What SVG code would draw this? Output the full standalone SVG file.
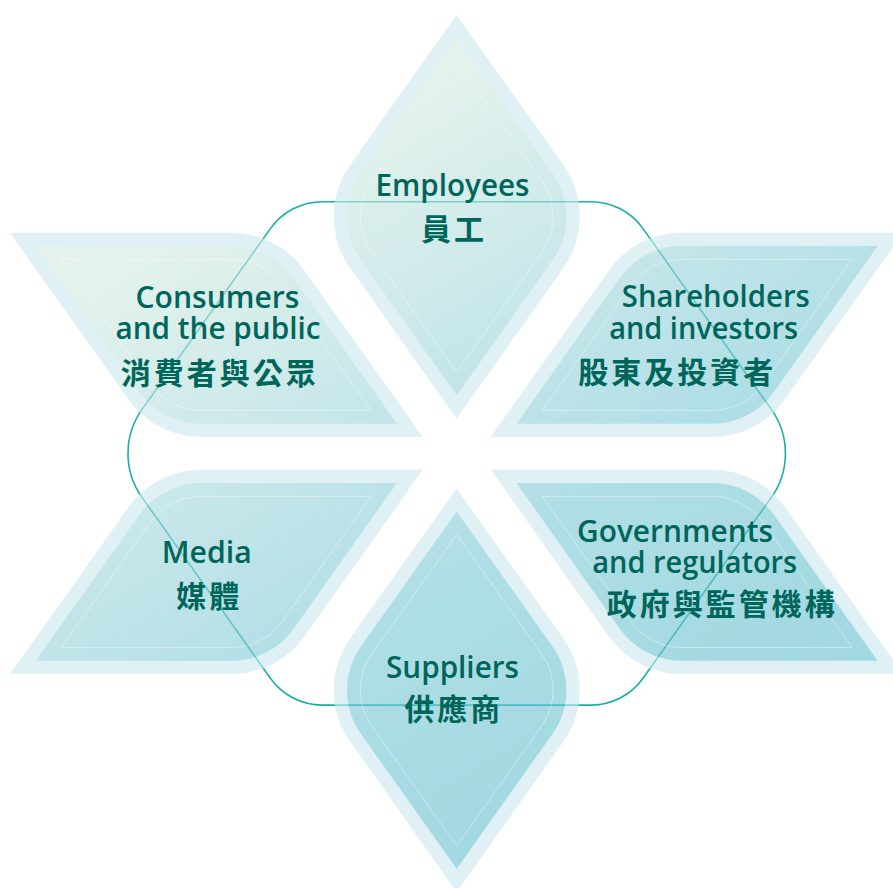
<svg xmlns="http://www.w3.org/2000/svg" width="893" height="888" viewBox="0 0 893 888">
<defs>
<linearGradient id="g" gradientUnits="userSpaceOnUse" x1="200" y1="40" x2="700" y2="880">
<stop offset="0" stop-color="#ddf1e5"/>
<stop offset="0.15" stop-color="#d5ece2"/>
<stop offset="0.42" stop-color="#a2d7dd"/>
<stop offset="0.6" stop-color="#80cbd7"/>
<stop offset="0.85" stop-color="#6cc2d2"/>
<stop offset="1" stop-color="#66bfd0"/>
</linearGradient>
<style>
.shape{opacity:0.62}
.band{stroke:#cdeaef;stroke-width:26.6;stroke-linejoin:miter;stroke-miterlimit:8;paint-order:stroke;fill:url(#g)}
.faint{fill:none;stroke:#ffffff;stroke-opacity:0.5;stroke-width:0.8}
.ring{fill:none;stroke:#1aafa7;stroke-width:1.6}
.en{font-family:"Open Sans","Liberation Sans",sans-serif;font-size:30px;font-weight:600;fill:#00665a;text-anchor:middle}
.zh{font-family:"Noto Sans CJK TC","Noto Sans CJK SC",sans-serif;font-size:30px;font-weight:700;fill:#00665a;text-anchor:middle;letter-spacing:3px}
</style>
</defs>
<rect width="893" height="888" fill="#ffffff"/>
<g id="connectors">
<path class="ring" d="M322.53,201.7 L590.87,201.7 A64,64 0 0 1 643.02,228.63 L771.36,409.4 A76,76 0 0 1 771.36,497.4 L643.02,678.17 A64,64 0 0 1 590.87,705.1 L322.53,705.1 A64,64 0 0 1 270.38,678.17 L142.04,497.4 A76,76 0 0 1 142.04,409.4 L270.38,228.63 A64,64 0 0 1 322.53,201.7 Z"/>
</g>
<g id="employees">
<g class="shape">
<path class="band" d="M456.7,37.97 L552.44,172.82 A75.7,75.7 0 0 1 552.44,260.48 L456.7,395.33 L360.96,260.48 A75.7,75.7 0 0 1 360.96,172.82 Z"/>
<path class="faint" d="M456.7,60.94 L541.6,180.53 A62.4,62.4 0 0 1 541.6,252.77 L456.7,372.36 L371.8,252.77 A62.4,62.4 0 0 1 371.8,180.53 Z"/>
</g>
<text class="en" x="452.5" y="196" textLength="154" lengthAdjust="spacingAndGlyphs">Employees</text>
<text class="zh" x="454" y="239.7">員工</text>
</g>
<g id="consumers">
<g class="shape">
<path class="band" d="M35.75,246 L231.71,246 A75.7,75.7 0 0 1 293.4,277.86 L396.95,423.7 L200.99,423.7 A75.7,75.7 0 0 1 139.3,391.84 Z"/>
<path class="faint" d="M61.51,259.3 L231.71,259.3 A62.4,62.4 0 0 1 282.55,285.56 L371.19,410.4 L200.99,410.4 A62.4,62.4 0 0 1 150.15,384.14 Z"/>
</g>
<text class="en" x="217.5" y="308.3" textLength="164" lengthAdjust="spacingAndGlyphs">Consumers</text>
<text class="en" x="218" y="339.3" textLength="205" lengthAdjust="spacingAndGlyphs">and the public</text>
<text class="zh" x="219.8" y="383.7">消費者與公眾</text>
</g>
<g id="shareholders">
<g class="shape">
<path class="band" d="M877.65,246 L681.69,246 A75.7,75.7 0 0 0 620,277.86 L516.45,423.7 L712.41,423.7 A75.7,75.7 0 0 0 774.1,391.84 Z"/>
<path class="faint" d="M851.89,259.3 L681.69,259.3 A62.4,62.4 0 0 0 630.85,285.56 L542.21,410.4 L712.41,410.4 A62.4,62.4 0 0 0 763.25,384.14 Z"/>
</g>
<text class="en" x="715.8" y="307.3" textLength="188" lengthAdjust="spacingAndGlyphs">Shareholders</text>
<text class="en" x="703.7" y="339.3" textLength="189" lengthAdjust="spacingAndGlyphs">and investors</text>
<text class="zh" x="677.3" y="383">股東及投資者</text>
</g>
<g id="media">
<g class="shape">
<path class="band" d="M35.75,660.8 L231.71,660.8 A75.7,75.7 0 0 0 293.4,628.94 L396.95,483.1 L200.99,483.1 A75.7,75.7 0 0 0 139.3,514.96 Z"/>
<path class="faint" d="M61.51,647.5 L231.71,647.5 A62.4,62.4 0 0 0 282.55,621.24 L371.19,496.4 L200.99,496.4 A62.4,62.4 0 0 0 150.15,522.66 Z"/>
</g>
<text class="en" x="206.7" y="563.3" textLength="90" lengthAdjust="spacingAndGlyphs">Media</text>
<text class="zh" x="209.2" y="607">媒體</text>
</g>
<g id="governments">
<g class="shape">
<path class="band" d="M877.65,660.8 L681.69,660.8 A75.7,75.7 0 0 1 620,628.94 L516.45,483.1 L712.41,483.1 A75.7,75.7 0 0 1 774.1,514.96 Z"/>
<path class="faint" d="M851.89,647.5 L681.69,647.5 A62.4,62.4 0 0 1 630.85,621.24 L542.21,496.4 L712.41,496.4 A62.4,62.4 0 0 1 763.25,522.66 Z"/>
</g>
<text class="en" x="675" y="541.7" textLength="196" lengthAdjust="spacingAndGlyphs">Governments</text>
<text class="en" x="694.7" y="572.7" textLength="205" lengthAdjust="spacingAndGlyphs">and regulators</text>
<text class="zh" x="722.2" y="615.3">政府與監管機構</text>
</g>
<g id="suppliers">
<g class="shape">
<path class="band" d="M456.7,511.47 L552.44,646.32 A75.7,75.7 0 0 1 552.44,733.98 L456.7,868.83 L360.96,733.98 A75.7,75.7 0 0 1 360.96,646.32 Z"/>
<path class="faint" d="M456.7,534.44 L541.6,654.03 A62.4,62.4 0 0 1 541.6,726.27 L456.7,845.86 L371.8,726.27 A62.4,62.4 0 0 1 371.8,654.03 Z"/>
</g>
<text class="en" x="452.5" y="678.3" textLength="133" lengthAdjust="spacingAndGlyphs">Suppliers</text>
<text class="zh" x="453.7" y="720.3">供應商</text>
</g>
</svg>
